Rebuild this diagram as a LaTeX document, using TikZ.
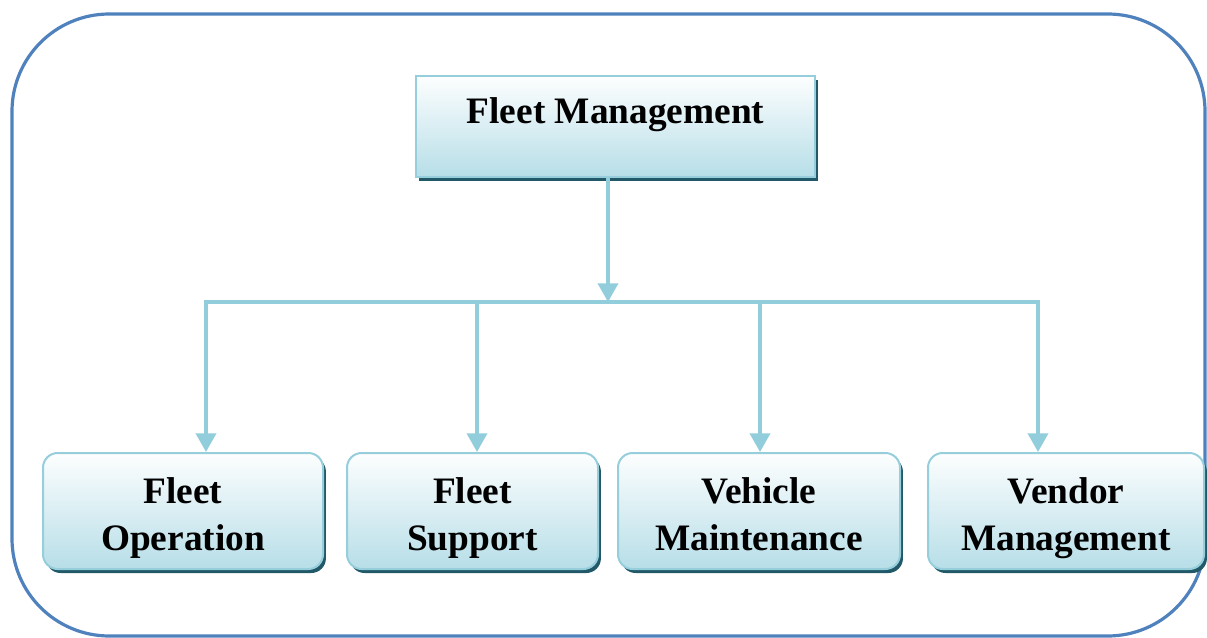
\documentclass[tikz,border=0pt]{standalone}
\usepackage{fontspec}
\setmainfont{Liberation Serif}
\usetikzlibrary{arrows.meta,shadows}
\definecolor{frameblue}{RGB}{79,129,189}
\definecolor{linkblue}{RGB}{146,205,220}
\definecolor{fillblue}{RGB}{183,222,232}
\definecolor{edgeblue}{RGB}{150,206,220}
\definecolor{shadowteal}{RGB}{33,89,104}
\begin{document}
\begin{tikzpicture}[x=0.75pt,y=-0.75pt,
  boxbase/.style={draw=edgeblue, line width=1.5pt, top color=white!97!fillblue, bottom color=fillblue,
    drop shadow={shadow xshift=2.2pt, shadow yshift=-3pt, fill=shadowteal, opacity=1},
    font=\bfseries\fontsize{28}{35}\selectfont, text=black, inner sep=0pt, align=center},
  topbox/.style={boxbase, minimum width=299pt, minimum height=75.75pt, text height=20pt, text depth=25.2pt},
  subbox/.style={boxbase, rounded corners=11pt, minimum height=87pt, text height=64.5pt, text depth=6pt},
  link/.style={draw=linkblue, line width=2.8pt},
  arr/.style={link, -{Triangle[width=15pt,length=14pt]}}
]
\useasboundingbox (0,0) rectangle (1207,638);
\draw[frameblue, line width=2.4pt, rounded corners=73pt] (12,14) rectangle (1205,636);

\node[topbox] (top) at (615.5,126.5) {Fleet Management};
\node[subbox, minimum width=210pt] (b1) at (183,511) {Fleet\\Operation};
\node[subbox, minimum width=188.25pt] (b2) at (472.5,511) {Fleet\\Support};
\node[subbox, minimum width=211.5pt] (b3) at (759,511) {Vehicle\\Maintenance};
\node[subbox, minimum width=207pt] (b4) at (1066,511) {Vendor\\Management};

\coordinate (hub) at (608,302);
\coordinate (j1) at (206,302);
\coordinate (j2) at (477,302);
\coordinate (j3) at (760,302);
\coordinate (j4) at (1038,302);

\draw[link, line cap=rect] (j1) -- (j4);
\draw[arr] (top.south -| hub) -- (hub);
\draw[arr] (j1) -- (j1 |- b1.north);
\draw[arr] (j2) -- (j2 |- b2.north);
\draw[arr] (j3) -- (j3 |- b3.north);
\draw[arr] (j4) -- (j4 |- b4.north);
\end{tikzpicture}
\end{document}
